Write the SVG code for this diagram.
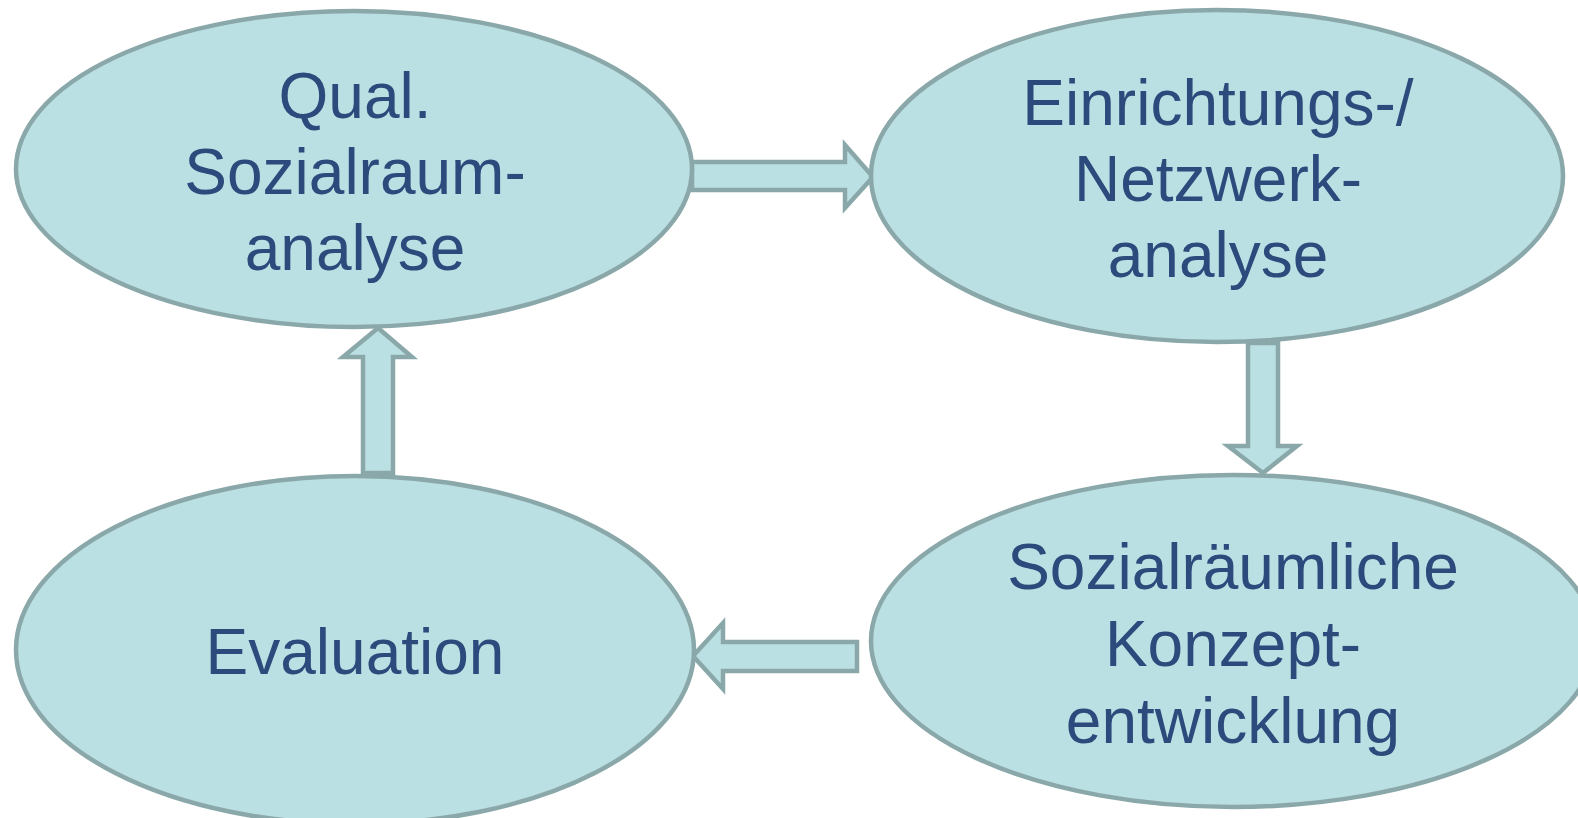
<svg xmlns="http://www.w3.org/2000/svg" width="1578" height="818" viewBox="0 0 1578 818">
<style>
.n{fill:#BBE0E3;stroke:#8AA8A9;stroke-width:4.5}
.a{fill:#BBE0E3;stroke:#8AA8A9;stroke-width:4.5;stroke-linejoin:miter}
.t{font-family:"Liberation Sans",Arial,sans-serif;font-size:64px;fill:#2C4A7C;text-anchor:middle}
</style>
<rect width="1578" height="818" fill="#FFFFFF"/>
<g id="connectors">
<polygon class="a" points="692,162 845,162 845,145 873,177 845,208 845,190 692,190"/>
<polygon class="a" points="1248,343 1278,343 1278,446 1297,446 1263,473 1228,446 1248,446"/>
<polygon class="a" points="857,642 723,642 723,623 693,656 723,689 723,671 857,671"/>
<polygon class="a" points="363,473 363,357 343,357 378,328 412,357 393,357 393,473"/>
</g>
<g id="node-qual">
<ellipse class="n" cx="354" cy="169" rx="338" ry="158"/>
<text class="t" x="355" y="118">Qual.</text>
<text class="t" x="355" y="194">Sozialraum-</text>
<text class="t" x="355" y="270">analyse</text>
</g>
<g id="node-netz">
<ellipse class="n" cx="1217" cy="176" rx="346" ry="166"/>
<text class="t" x="1218" y="125">Einrichtungs-/</text>
<text class="t" x="1218" y="201">Netzwerk-</text>
<text class="t" x="1218" y="277">analyse</text>
</g>
<g id="node-eval">
<ellipse class="n" cx="355" cy="650" rx="339" ry="174"/>
<text class="t" x="355" y="674">Evaluation</text>
</g>
<g id="node-konzept">
<ellipse class="n" cx="1233" cy="641" rx="362" ry="166"/>
<text class="t" x="1233" y="589">Sozialräumliche</text>
<text class="t" x="1233" y="666">Konzept-</text>
<text class="t" x="1233" y="743">entwicklung</text>
</g>
</svg>
